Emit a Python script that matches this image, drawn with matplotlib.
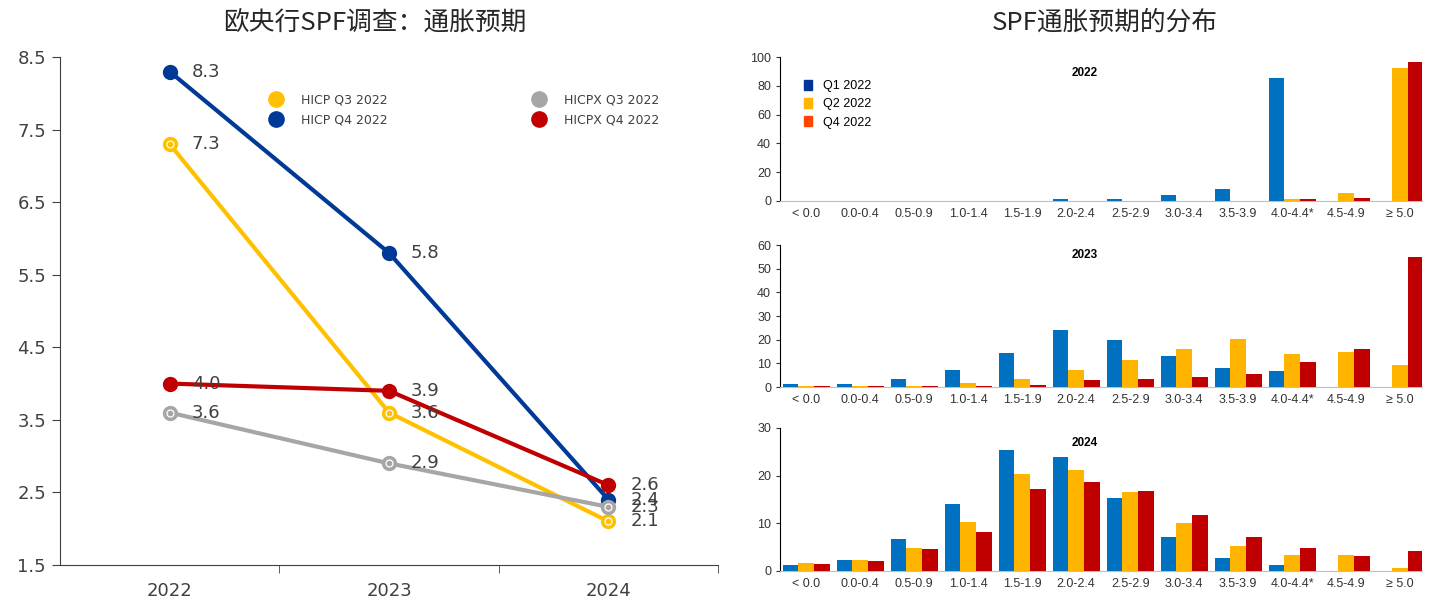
import matplotlib.pyplot as plt
import numpy as np
from matplotlib.lines import Line2D
from matplotlib.patches import Patch

# left panel: SPF inflation expectations by horizon
years = ['2022', '2023', '2024']
hicp_q3 = [7.3, 3.6, 2.1]
hicp_q4 = [8.3, 5.8, 2.4]
hicpx_q3 = [3.6, 2.9, 2.3]
hicpx_q4 = [4.0, 3.9, 2.6]

# right panels: distribution of point forecasts (% of respondents)
bins = ['< 0.0', '0.0-0.4', '0.5-0.9', '1.0-1.4', '1.5-1.9', '2.0-2.4',
        '2.5-2.9', '3.0-3.4', '3.5-3.9', '4.0-4.4*', '4.5-4.9', '≥ 5.0']
q1_2022 = [0, 0, 0, 0, 0, 0.9, 1.5, 4.2, 7.9, 85.2, 0, 0]
q2_2022 = [0, 0, 0, 0, 0, 0, 0, 0, 0, 1.5, 5.3, 92.4]
q4_2022 = [0, 0, 0, 0, 0, 0, 0, 0, 0, 1.0, 2.2, 96.6]

q1_2023 = [1.3, 1.3, 3.2, 7.4, 14.3, 24.0, 19.8, 13.2, 7.9, 6.6, 0, 0]
q2_2023 = [0.5, 0.5, 0.5, 1.7, 3.2, 7.0, 11.4, 16.0, 20.2, 14.0, 15.0, 9.4]
q4_2023 = [0.5, 0.5, 0.5, 0.5, 1.0, 2.8, 3.2, 4.1, 5.5, 10.5, 16.3, 54.9]

q1_2024 = [1.2, 2.2, 6.6, 14.1, 25.3, 24.0, 15.3, 7.1, 2.7, 1.2, 0, 0]
q2_2024 = [1.75, 2.2, 4.8, 10.2, 20.3, 21.2, 16.6, 10.0, 5.2, 3.3, 3.3, 0.6]
q4_2024 = [1.4, 2.0, 4.5, 8.1, 17.2, 18.7, 16.8, 11.8, 7.1, 4.8, 3.1, 4.1]

plt.rcParams['font.family'] = ['DejaVu Sans', 'Noto Sans CJK SC']

fig = plt.figure(figsize=(14.42, 6.01), dpi=100)
fig.patch.set_facecolor('white')

cjk = ['Noto Sans CJK SC', 'DejaVu Sans']
fig.text(0.26, 0.963, '欧央行SPF调查：通胀预期', ha='center', va='center',
         fontsize=18.5, family=cjk, color='#262626')
fig.text(0.766, 0.963, 'SPF通胀预期的分布', ha='center', va='center',
         fontsize=18.5, family=cjk, color='#262626')

# ---- left line chart ----
ax = fig.add_axes([0.0416, 0.06, 0.4564, 0.845])
x = np.arange(len(years))
series = [
    (hicp_q3, '#FFC000', True, 'HICP Q3 2022'),
    (hicp_q4, '#003A96', False, 'HICP Q4 2022'),
    (hicpx_q3, '#A6A6A6', True, 'HICPX Q3 2022'),
    (hicpx_q4, '#C00000', False, 'HICPX Q4 2022'),
]
draw_order = [2, 0, 1, 3]
for i in draw_order:
    vals, col, ring, lab = series[i]
    ax.plot(x, vals, color=col, lw=3, marker='o', ms=10, mfc=col, mec=col,
            zorder=3 + i)
    if ring:
        ax.plot(x, vals, ls='none', marker='o', ms=5, mfc='none', mec='white',
                mew=0.9, zorder=3 + i)
    for xi, v in zip(x, vals):
        ax.text(xi + 0.1, v, f'{v:.1f}', ha='left', va='center',
                fontsize=13, color='#404040', zorder=10)

ax.set_xlim(-0.5, 2.5)
ax.set_ylim(1.5, 8.5)
ax.set_yticks(np.arange(1.5, 8.6, 1.0))
ax.set_yticklabels([f'{t:.1f}' for t in np.arange(1.5, 8.6, 1.0)])
ax.set_xticks(x)
ax.set_xticklabels(years)
ax.set_xticks([0.5, 1.5, 2.5], minor=True)
ax.tick_params(axis='x', which='major', length=0, pad=12, labelsize=13,
               colors='#404040')
ax.tick_params(axis='x', which='minor', length=6, color='#404040')
ax.tick_params(axis='y', length=6, labelsize=13, colors='#404040', pad=4)
for s in ['top', 'right']:
    ax.spines[s].set_visible(False)
for s in ['left', 'bottom']:
    ax.spines[s].set_color('#404040')

leg_handles = [Line2D([], [], ls='none', marker='o', ms=11, mfc=c, mec=c)
               for _, c, _, _ in series]
ax.legend(leg_handles, [s[3] for s in series], ncol=2, loc='upper left',
          bbox_to_anchor=(0.3, 0.95), frameon=False, fontsize=9,
          handletextpad=1.4, columnspacing=11.5, labelspacing=0.55,
          labelcolor='#404040', handlelength=1.2)

# ---- right bar charts ----
panels = [
    ('2022', q1_2022, q2_2022, q4_2022, 100, 20, [0.666, 0.239], 0.89),
    ('2023', q1_2023, q2_2023, q4_2023, 60, 10, [0.356, 0.236], 0.93),
    ('2024', q1_2024, q2_2024, q4_2024, 30, 10, [0.050, 0.238], 0.895),
]
bx = np.arange(len(bins))
w = 0.29
bar_cols = ['#0070C0', '#FFB400', '#C00000']
for title, a, b, c, ymax, step, (bot, h), ty in panels:
    bax = fig.add_axes([0.541, bot, 0.445, h])
    for k, vals in enumerate([a, b, c]):
        bax.bar(bx + (k - 1) * w, vals, width=w, color=bar_cols[k],
                edgecolor='none', zorder=3)
    bax.set_xlim(-0.48, 11.4)
    bax.set_ylim(0, ymax)
    bax.set_yticks(np.arange(0, ymax + 1, step))
    bax.set_xticks(bx)
    bax.set_xticklabels(bins, family=['Liberation Sans', 'DejaVu Sans'])
    bax.tick_params(axis='x', length=0, labelsize=9, colors='#333333', pad=5)
    bax.tick_params(axis='y', length=3, labelsize=9, colors='#333333')
    for lab in bax.get_yticklabels():
        lab.set_family(['Liberation Sans', 'DejaVu Sans'])
    for s in ['top', 'right']:
        bax.spines[s].set_visible(False)
    bax.spines['left'].set_color('black')
    bax.spines['bottom'].set_color('#BFBFBF')
    bax.text(0.475, ty, title, transform=bax.transAxes, ha='center',
             va='center', fontsize=8.5, fontweight='bold',
             family=['Liberation Sans', 'DejaVu Sans'])
    if title == '2022':
        hs = [Patch(color='#003399'), Patch(color='#FFB400'),
              Patch(color='#FF4500')]
        bax.legend(hs, ['Q1 2022', 'Q2 2022', 'Q4 2022'], loc='upper left',
                   bbox_to_anchor=(0.02, 0.92), frameon=False,
                   handlelength=0.6, handleheight=0.9, handletextpad=0.9,
                   labelspacing=0.45,
                   prop={'family': ['Liberation Sans', 'DejaVu Sans'],
                         'size': 9})

fig.savefig('out.png', dpi=100)
